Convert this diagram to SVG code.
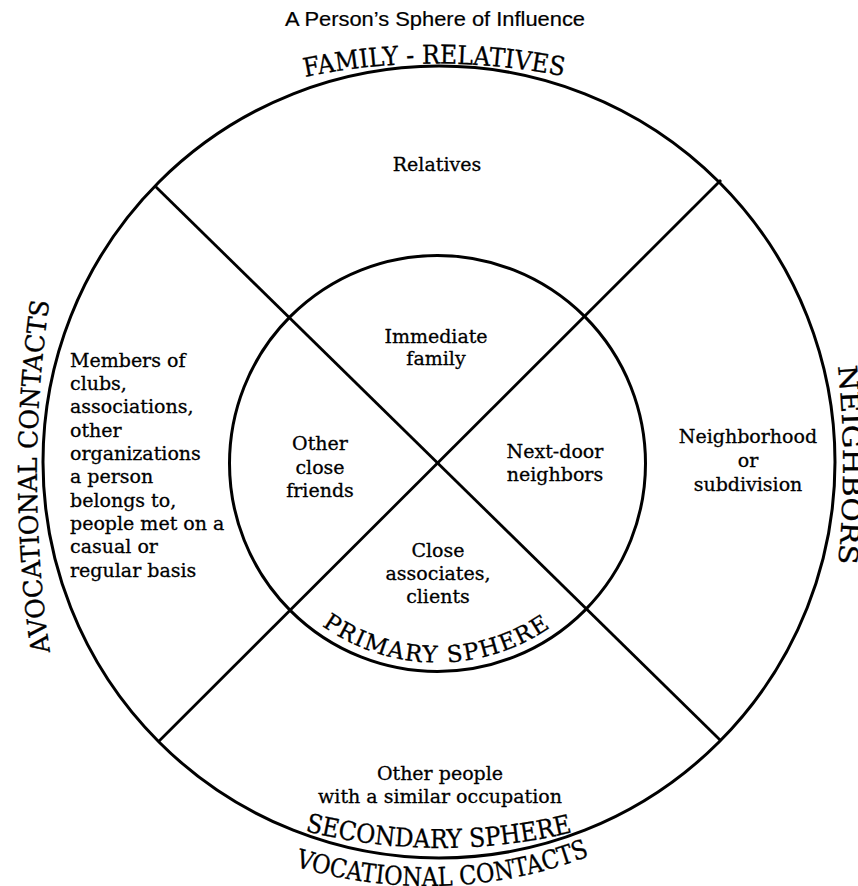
<svg xmlns="http://www.w3.org/2000/svg" width="858" height="886" viewBox="0 0 858 886">
<style>
.ring{fill:none;stroke:#000;stroke-width:3}
.div{stroke:#000;stroke-width:2.8;fill:none}
.t{font-family:"DejaVu Serif","Liberation Serif",serif;font-size:19px;fill:#000;stroke:#000;stroke-width:0.3}
.c{text-anchor:middle}
.cap{font-family:"DejaVu Serif","Liberation Serif",serif;font-size:26px;fill:#000;stroke:#000;stroke-width:0.3}
.pcap{font-family:"DejaVu Serif","Liberation Serif",serif;font-size:23px;fill:#000;stroke:#000;stroke-width:0.3}
.title{font-family:"Liberation Sans","DejaVu Sans",sans-serif;font-size:19.5px;fill:#000;stroke:#000;stroke-width:0.2}
</style>
<defs>
<path id="pFamily" d="M 305 77 A 650 650 0 0 1 567 77"/>
<path id="pSecondary" d="M 305 831 A 552 552 0 0 0 577 831"/>
<path id="pVocational" d="M 295 866.4 A 454 454 0 0 0 593 854.6"/>
<path id="pPrimary" d="M 322 625.6 A 199 199 0 0 0 552 626.3"/>
<path id="pAvocational" d="M 50 652 A 1200 1200 0 0 1 50 298"/>
<path id="pNeighbors" d="M 838 366 A 1000 1000 0 0 1 838 566"/>
</defs>
<rect width="858" height="886" fill="#fff"/>

<g id="title">
<text class="title" x="435" y="26" text-anchor="middle" textLength="300" lengthAdjust="spacingAndGlyphs">A Person’s Sphere of Influence</text>
</g>

<g id="secondary-sphere">
<circle class="ring" cx="439" cy="462" r="396"/>
<text class="cap"><textPath href="#pSecondary" textLength="270" lengthAdjust="spacingAndGlyphs">SECONDARY SPHERE</textPath></text>
</g>

<g id="primary-sphere">
<circle class="ring" cx="437.5" cy="463.5" r="208"/>
<text class="pcap"><textPath href="#pPrimary" textLength="243" lengthAdjust="spacing">PRIMARY SPHERE</textPath></text>
</g>

<g id="connectors">
<line class="div" x1="155" y1="186" x2="720.6" y2="740.4"/>
<line class="div" x1="721" y1="180" x2="158.6" y2="741.6"/>
</g>

<g id="family-relatives">
<text class="cap"><textPath href="#pFamily" textLength="260" lengthAdjust="spacingAndGlyphs">FAMILY - RELATIVES</textPath></text>
<text class="t c" x="437" y="171">Relatives</text>
</g>

<g id="immediate-family">
<text class="t c" x="436" y="343">Immediate</text>
<text class="t c" x="436" y="365">family</text>
</g>

<g id="avocational-contacts">
<text class="cap"><textPath href="#pAvocational" textLength="352" lengthAdjust="spacingAndGlyphs">AVOCATIONAL CONTACTS</textPath></text>
<text class="t" x="70" y="367">Members of</text>
<text class="t" x="70" y="390">clubs,</text>
<text class="t" x="70" y="413">associations,</text>
<text class="t" x="70" y="437">other</text>
<text class="t" x="70" y="460">organizations</text>
<text class="t" x="70" y="483">a person</text>
<text class="t" x="70" y="507">belongs to,</text>
<text class="t" x="70" y="530">people met on a</text>
<text class="t" x="70" y="553">casual or</text>
<text class="t" x="70" y="577">regular basis</text>
</g>

<g id="close-friends">
<text class="t c" x="320" y="450">Other</text>
<text class="t c" x="320" y="474">close</text>
<text class="t c" x="320" y="497">friends</text>
</g>

<g id="neighbors">
<text class="cap"><textPath href="#pNeighbors" textLength="198" lengthAdjust="spacingAndGlyphs">NEIGHBORS</textPath></text>
<text class="t c" x="748" y="443">Neighborhood</text>
<text class="t c" x="748" y="467">or</text>
<text class="t c" x="748" y="491">subdivision</text>
</g>

<g id="next-door-neighbors">
<text class="t c" x="555" y="458">Next-door</text>
<text class="t c" x="555" y="481">neighbors</text>
</g>

<g id="close-associates">
<text class="t c" x="438" y="557">Close</text>
<text class="t c" x="438" y="580">associates,</text>
<text class="t c" x="438" y="603">clients</text>
</g>

<g id="vocational-contacts">
<text class="t c" x="440" y="780">Other people</text>
<text class="t c" x="440" y="803">with a similar occupation</text>
<text class="cap"><textPath href="#pVocational" textLength="300" lengthAdjust="spacingAndGlyphs">VOCATIONAL CONTACTS</textPath></text>
</g>
</svg>
